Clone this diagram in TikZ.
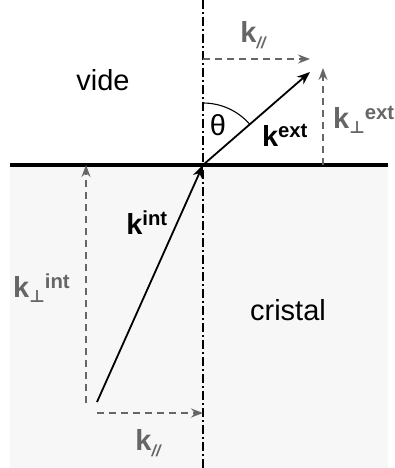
\documentclass[tikz,border=0pt]{standalone}
\usepackage{fontspec}
\setmainfont{Liberation Sans}
\newfontfamily\symbfont{DejaVu Sans}
\usetikzlibrary{arrows.meta}
\definecolor{cristalfond}{HTML}{F7F7F7}
\definecolor{gris}{HTML}{666666}
\newcommand{\indpar}{\raisebox{-6pt}{\fontsize{16}{16}\selectfont\itshape //}}
\newcommand{\indperp}{\raisebox{-5pt}{\symbfont\fontsize{17}{17}\selectfont\bfseries ⊥}}

\begin{document}
\begin{tikzpicture}[x=1pt,y=1pt,
    every node/.style={font=\fontsize{29}{32}\selectfont},
    vecteur/.style={line width=1.8pt,-{Stealth[length=13pt,width=10pt,inset=4pt]}},
    composante/.style={gris,line width=1.7pt,dash pattern=on 7pt off 5pt,
      -{Stealth[length=12pt,width=9pt,inset=4pt]}},
    gras/.style={font=\fontsize{29}{32}\selectfont\bfseries},
    etiq/.style={gras,text=gris}]
  \useasboundingbox (-203,-303) rectangle (191,165);
  % milieux
  \fill[cristalfond] (-193,0) rectangle (185,-303);
  \draw[line width=3.5pt] (-193,0) -- (185,0);
  \draw[line width=1.3pt,dash pattern=on 9pt off 3pt on 2pt off 3pt] (0,165) -- (0,-303);
  \coordinate (O) at (0,0);
  \coordinate (kext) at (107,93);
  \coordinate (kint) at (-106,-237);
  % composantes
  \coordinate (hautg) at (0,106);
  \coordinate (hautd) at (107,106);
  \coordinate (extb) at (120,0);
  \coordinate (exth) at (120,97);
  \coordinate (intb) at (-117,-238);
  \coordinate (inth) at (-117,0);
  \coordinate (basg) at (-106,-248);
  \coordinate (basd) at (0,-248);
  \draw[composante] (hautg) -- (hautd);
  \draw[composante] (extb) -- (exth);
  \draw[composante] (intb) -- (inth);
  \draw[composante] (basg) -- (basd);
  % vecteurs
  \draw[vecteur] (O) -- (kext);
  \draw[vecteur] (kint) -- (O);
  \draw[line width=1.1pt] (0,62) arc (90:41:62);
  % textes
  \node (vide) at (-100,85) {vide};
  \node (cristal) at (85,-145) {cristal};
  \node (theta) at (15,40) {θ};
  \node[gras] (lkext) at (82,30) {k\textsuperscript{ext}};
  \node[gras] (lkint) at (-56,-58) {k\textsuperscript{int}};
  \node[etiq] (lkparh) at (50,130) {k\indpar};
  \node[etiq] (lkparb) at (-55,-278) {k\indpar};
  \node[etiq,anchor=west,inner sep=0pt] (lkperpext) at (130,45) {k\indperp\textsuperscript{ext}};
  \node[etiq,anchor=west,inner sep=0pt] (lkperpint) at (-190,-123) {k\indperp\textsuperscript{int}};
\end{tikzpicture}
\end{document}
